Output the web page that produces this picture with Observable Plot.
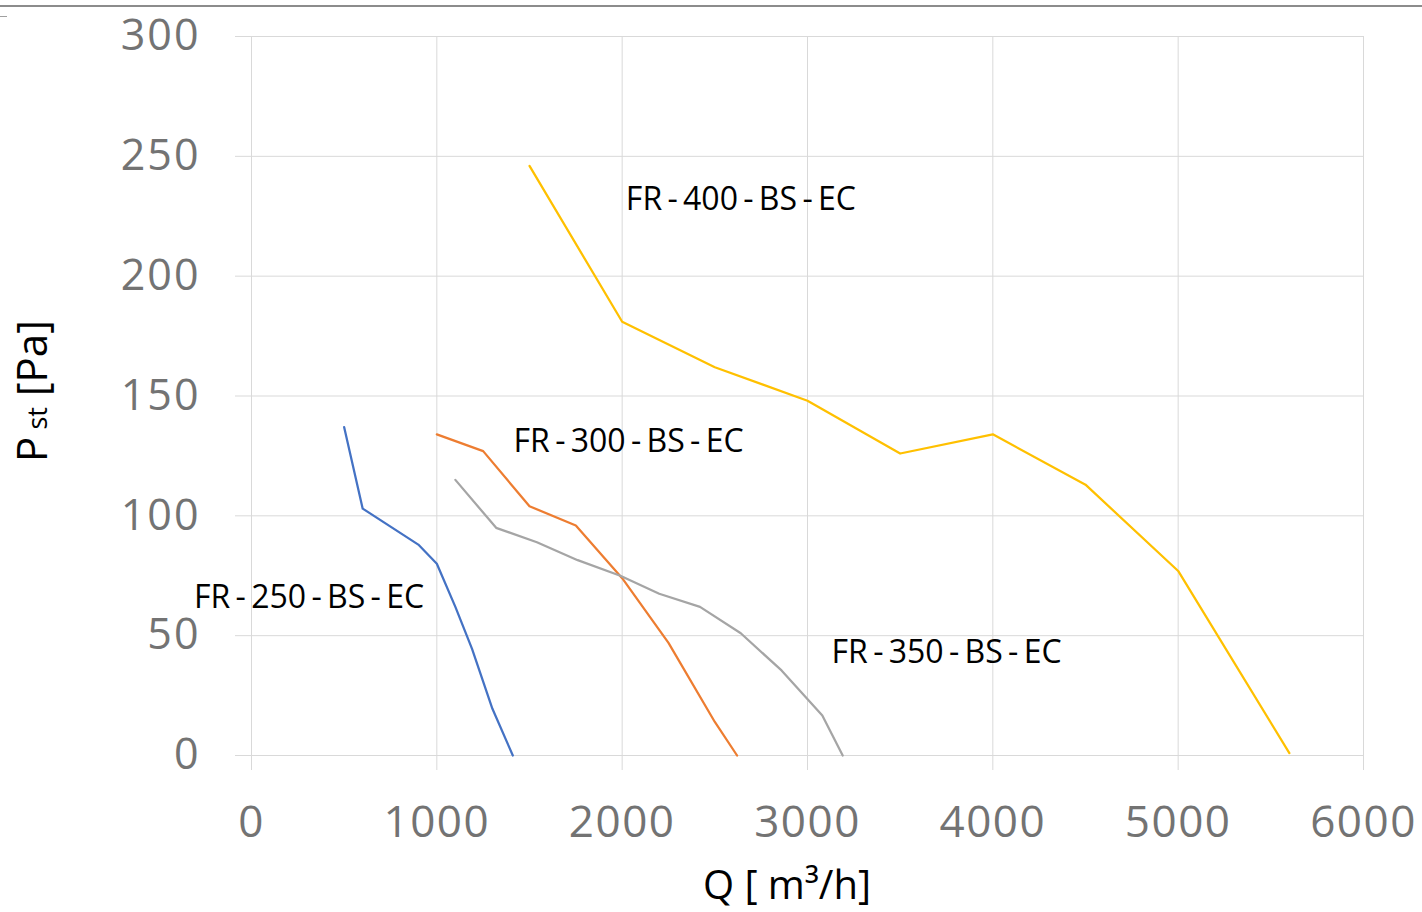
<!DOCTYPE html>
<html><head><meta charset="utf-8">
<script src="https://cdn.jsdelivr.net/npm/d3@7"></script>
<script src="https://cdn.jsdelivr.net/npm/@observablehq/plot@0.6"></script>
<style>
body{margin:0;background:#fff;}
#wrap{position:relative;width:1422px;height:912px;overflow:hidden;}
#wrap svg{position:absolute;left:0;top:0;}
.topline{position:absolute;left:0;top:5px;width:1422px;height:2px;background:#8c8c8c;}
.topmark{position:absolute;left:0;top:16px;width:7px;height:1px;background:#a0a0a0;}
</style></head>
<body><div id="wrap"><div class="topline"></div><div class="topmark"></div></div>
<script>
// Series (Q in m3/h, Pst in Pa)
const seriesNames = ["FR-250-BS-EC", "FR-300-BS-EC", "FR-350-BS-EC", "FR-400-BS-EC"];
const seriesColors = ["#4472C4", "#ED7D31", "#A5A5A5", "#FFC000"];

const q250 = [500, 600, 900, 1000, 1100, 1190, 1300, 1410];
const p250 = [137, 103, 88, 80, 62, 44.5, 19.5, 0];

const q300 = [1000, 1250, 1500, 1750, 2000, 2250, 2500, 2620];
const p300 = [134, 127, 104, 96, 74, 47, 14, 0];

const q350 = [1100, 1320, 1540, 1760, 1990, 2200, 2420, 2640, 2860, 3080, 3190];
const p350 = [115, 95, 89, 81.5, 75, 67.5, 62, 51, 35.5, 16.7, 0];

const q400 = [1500, 2000, 2500, 3000, 3500, 4000, 4500, 5000, 5600];
const p400 = [246, 181, 162, 148, 126, 134, 113, 77, 1];

// Curve labels (text and anchor in data units)
const labelTexts = ["FR - 250 - BS - EC", "FR - 300 - BS - EC", "FR - 350 - BS - EC", "FR - 400 - BS - EC"];
const labelQ = [-310, 1414, 3130, 2020];
const labelP = [66, 131, 43, 232];

// Axis ticks
const xTicks = [0, 1000, 2000, 3000, 4000, 5000, 6000];
const yTicks = [0, 50, 100, 150, 200, 250, 300];

const qs = [q250, q300, q350, q400];
const ps = [p250, p300, p350, p400];
const rows = [];
seriesNames.forEach((name, i) => {
  qs[i].forEach((q, j) => rows.push({series: name, q, p: ps[i][j]}));
});
const labels = labelTexts.map((t, i) => ({t, q: labelQ[i], p: labelP[i]}));

const grid = "#d9d9d9";
const tickText = "#737373";

const chart = Plot.plot({
  width: 1422,
  height: 912,
  marginLeft: 251,
  marginRight: 59,
  marginTop: 36,
  marginBottom: 157,
  style: "font-family:'Open Sans',sans-serif;background:transparent;word-spacing:-3px;",
  x: {domain: [0, 6000]},
  y: {domain: [0, 300]},
  color: {domain: seriesNames, range: seriesColors},
  marks: [
    Plot.gridX(xTicks, {stroke: grid, strokeOpacity: 1, strokeWidth: 1}),
    Plot.gridY(yTicks, {stroke: grid, strokeOpacity: 1, strokeWidth: 1}),
    Plot.axisX(xTicks, {
      tickSize: 15, tickPadding: 35, stroke: grid, strokeOpacity: 1,
      fill: tickText, fontSize: 44, tickFormat: d => String(d), label: null
    }),
    Plot.axisY(yTicks, {
      tickSize: 16, tickPadding: 35, stroke: grid, strokeOpacity: 1,
      fill: tickText, fontSize: 43, tickFormat: d => String(d), label: null
    }),
    Plot.line(rows, {x: "q", y: "p", z: "series", stroke: "series", strokeWidth: 2.25}),
    Plot.text(labels, {x: "q", y: "p", text: "t", textAnchor: "start", fontSize: 32, fill: "black"})
  ]
});

document.getElementById("wrap").appendChild(chart);

const svg = d3.select(chart);
svg.selectAll("g[aria-label='x-axis tick label'] text")
  .style("letter-spacing", "1.5px");
svg.selectAll("g[aria-label='y-axis tick label'] text")
  .style("letter-spacing", "2px");

// Axis titles
const xt = svg.append("text")
  .attr("x", 787).attr("y", 899)
  .attr("text-anchor", "middle")
  .style("font-size", "40px").style("word-spacing", "0px")
  .attr("fill", "black");
xt.text("Q [ m³/h]");

const yt = svg.append("text")
  .attr("transform", "translate(47,391) rotate(-90)")
  .attr("text-anchor", "middle")
  .style("font-size", "42px").style("word-spacing", "0px")
  .attr("fill", "black");
yt.append("tspan").text("P");
yt.append("tspan").style("font-size", "27px").text(" st");
yt.append("tspan").text(" [Pa]");
</script>
</body></html>
